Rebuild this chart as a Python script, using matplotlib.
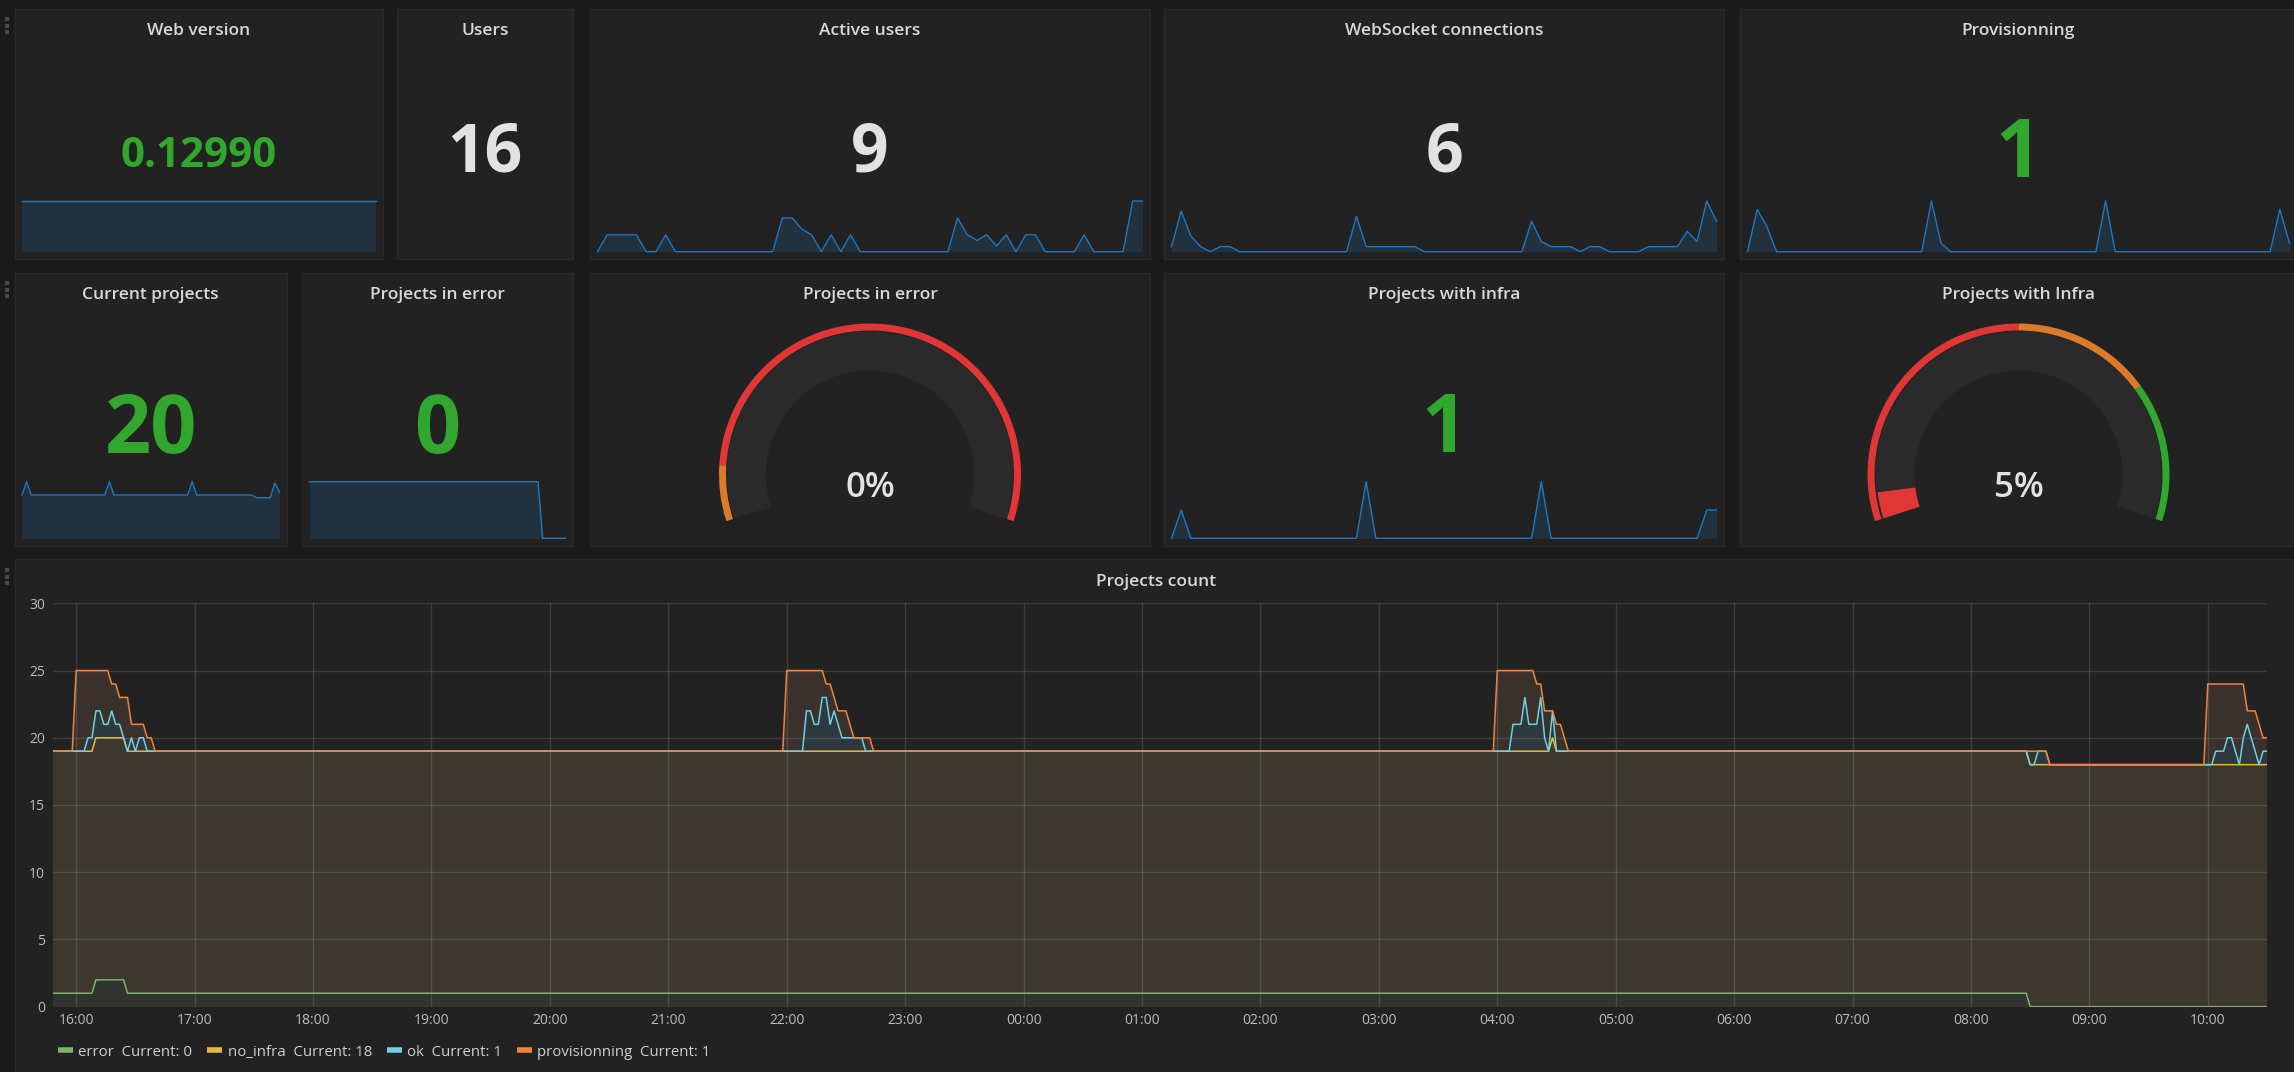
import numpy as np
import matplotlib.pyplot as plt
from matplotlib.patches import Rectangle, Wedge
from matplotlib.lines import Line2D

plt.rcParams['font.family'] = ['Open Sans', 'DejaVu Sans']

W, H = 2294, 1072

# ---------------- data ----------------
stat_titles = ['Web version', 'Users', 'Active users', 'WebSocket connections', 'Provisionning',
               'Current projects', 'Projects in error', 'Projects with infra']
stat_values = ['0.12990', '16', '9', '6', '1', '20', '0', '1']

web_spark = [0.1299, 0.1299, 0.1299, 0.1299, 0.1299, 0.1299, 0.1299, 0.1299, 0.1299, 0.1299,
             0.1299, 0.1299, 0.1299, 0.1299, 0.1299, 0.1299, 0.1299, 0.1299, 0.1299, 0.1299,
             0.1299, 0.1299, 0.1299, 0.1299, 0.1299, 0.1299, 0.1299, 0.1299, 0.1299, 0.1299,
             0.1299, 0.1299, 0.1299, 0.1299, 0.1299, 0.1299, 0.1299, 0.1299, 0.1299, 0.1299,
             0.1299, 0.1299, 0.1299, 0.1299, 0.1299, 0.1299, 0.1299, 0.1299, 0.1299, 0.1299,
             0.1299, 0.1299, 0.1299, 0.1299, 0.1299, 0.1299, 0.1299]
active_spark = [0, 3, 3, 3, 3, 0, 0, 3, 0, 0,
                0, 0, 0, 0, 0, 0, 0, 0, 0, 6,
                6, 4, 3, 0, 3, 0, 3, 0, 0, 0,
                0, 0, 0, 0, 0, 0, 0, 6, 3, 2,
                3, 1, 3, 0, 3, 3, 0, 0, 0, 0,
                3, 0, 0, 0, 0, 9, 9]
ws_spark = [1, 8, 3, 1, 0, 1, 1, 0, 0, 0,
            0, 0, 0, 0, 0, 0, 0, 0, 0, 7,
            1, 1, 1, 1, 1, 1, 0, 0, 0, 0,
            0, 0, 0, 0, 0, 0, 0, 6, 2, 1,
            1, 1, 0, 1, 1, 0, 0, 0, 0, 1,
            1, 1, 1, 4, 2, 10, 6]
prov_spark = [0, 5, 3, 0, 0, 0, 0, 0, 0, 0,
              0, 0, 0, 0, 0, 0, 0, 0, 0, 6,
              1, 0, 0, 0, 0, 0, 0, 0, 0, 0,
              0, 0, 0, 0, 0, 0, 0, 6, 0, 0,
              0, 0, 0, 0, 0, 0, 0, 0, 0, 0,
              0, 0, 0, 0, 0, 5, 1]
current_spark = [19, 20, 19, 19, 19, 19, 19, 19, 19, 19,
                 19, 19, 19, 19, 19, 19, 19, 19, 19, 20,
                 19, 19, 19, 19, 19, 19, 19, 19, 19, 19,
                 19, 19, 19, 19, 19, 19, 19, 20, 19, 19,
                 19, 19, 19, 19, 19, 19, 19, 19, 19, 19,
                 19, 18.8, 18.8, 18.8, 18.8, 19.9, 19.2]
error_spark = [1, 1, 1, 1, 1, 1, 1, 1, 1, 1,
               1, 1, 1, 1, 1, 1, 1, 1, 1, 1,
               1, 1, 1, 1, 1, 1, 1, 1, 1, 1,
               1, 1, 1, 1, 1, 1, 1, 1, 1, 1,
               1, 1, 1, 1, 1, 1, 1, 1, 1, 1,
               1, 0, 0, 0, 0, 0, 0]
infra_spark = [0, 1, 0, 0, 0, 0, 0, 0, 0, 0,
               0, 0, 0, 0, 0, 0, 0, 0, 0, 0,
               2, 0, 0, 0, 0, 0, 0, 0, 0, 0,
               0, 0, 0, 0, 0, 0, 0, 0, 2, 0,
               0, 0, 0, 0, 0, 0, 0, 0, 0, 0,
               0, 0, 0, 0, 0, 1, 1]

gauge_titles = ['Projects in error', 'Projects with Infra']
gauge_values = [0, 5]
gauge_edges = [[0, 10, 100], [0, 50, 75, 100]]

# Projects count: (minute since 16:00, value) change points per series
error_breaks = [(-12, 1), (10, 2), (26, 1), (990, 0)]
no_infra_breaks = [(-12, 18), (748, 19), (750, 18)]
ok_breaks = [(-12, 0), (6, 1), (10, 2), (14, 1), (18, 2), (20, 1), (24, 0), (28, 1), (30, 0), (32, 1), (36, 0),
             (370, 3), (374, 2), (378, 4), (382, 2), (384, 3), (386, 2), (388, 1), (400, 0),
             (728, 2), (734, 4), (736, 2), (742, 4), (744, 1), (746, 0), (748, 2), (750, 0),
             (994, 1), (1000, 0),
             (1084, 1), (1090, 2), (1094, 1), (1096, 0), (1098, 2), (1100, 3), (1102, 2), (1104, 1),
             (1106, 0), (1108, 1)]
prov_breaks = [(-12, 0), (0, 6), (6, 5), (10, 3), (14, 4), (18, 2), (20, 3), (22, 2), (24, 3), (26, 4),
               (28, 1), (30, 2), (32, 1), (40, 0),
               (360, 6), (370, 3), (374, 4), (378, 2), (380, 1), (382, 3), (384, 1), (388, 2), (392, 1),
               (394, 0), (400, 1), (404, 0),
               (720, 6), (728, 4), (734, 2), (736, 4), (740, 3), (742, 1), (744, 2), (746, 3), (748, 0),
               (750, 2), (754, 1), (756, 0),
               (990, 1), (994, 0),
               (1080, 6), (1084, 5), (1090, 4), (1094, 5), (1096, 6), (1098, 4), (1100, 1), (1102, 2),
               (1104, 3), (1108, 1)]
series_names = ['error', 'no_infra', 'ok', 'provisionning']
hour_ticks = [0, 60, 120, 180, 240, 300, 360, 420, 480, 540, 600, 660, 720, 780, 840, 900, 960, 1020, 1080]
hour_labels = ['16:00', '17:00', '18:00', '19:00', '20:00', '21:00', '22:00', '23:00', '00:00', '01:00',
               '02:00', '03:00', '04:00', '05:00', '06:00', '07:00', '08:00', '09:00', '10:00']

# ---------------- style ----------------
BG = '#1a1a1a'
PANEL = '#222222'
BAND = '#2a2a2a'
TITLE_C = '#d8d9da'
WHITE = '#e2e2e2'
GREEN = '#31a82d'
ORANGE = '#db7a2a'
RED = '#e03636'
line_colors = ['#7eb26d', '#eab839', '#6ed0e0', '#ef843c']
fill_colors = ['#31342e', '#3c382e', '#2d393d', '#3a312d']

fig = plt.figure(figsize=(W / 100, H / 100), dpi=100, facecolor=BG)
bg = fig.add_axes([0, 0, 1, 1])
bg.set_xlim(0, W)
bg.set_ylim(0, H)
bg.axis('off')


def rect(x0, y0, x1, y1):
    return [x0 / W, 1 - y1 / H, (x1 - x0) / W, (y1 - y0) / H]


stat_boxes = [(14.5, 9, 383, 259), (397, 9, 573, 259), (590, 9, 1150, 259), (1164, 9, 1724, 259),
              (1740, 9, 2297, 259), (14.5, 273, 287, 546), (302, 273, 573, 546), (1164, 273, 1724, 546)]
gauge_boxes = [(590, 273, 1150, 546), (1740, 273, 2297, 546)]
graph_box = (14.5, 559, 2297, 1080)

for (x0, y0, x1, y1) in stat_boxes + gauge_boxes + [graph_box]:
    bg.add_patch(Rectangle((x0, H - y1), x1 - x0, y1 - y0, facecolor=PANEL, edgecolor='#2a2a2a', lw=1))

# drag handles
for yy in [18, 282, 569]:
    for k in range(3):
        bg.add_patch(Rectangle((5, H - (yy + k * 6.5) - 3), 4, 4, facecolor='#4a4a4a', lw=0))

# titles
for (x0, y0, x1, y1), t in zip(stat_boxes + gauge_boxes, stat_titles + gauge_titles):
    base = 35 if y0 < 100 else 299.3
    bg.text((x0 + x1) / 2, H - base, t, color=TITLE_C, fontsize=12.5, fontweight='semibold',
            ha='center', va='baseline')
bg.text((graph_box[0] + graph_box[2]) / 2, H - 586, 'Projects count', color=TITLE_C, fontsize=12.5,
        fontweight='semibold', ha='center', va='baseline')

# stat values
value_colors = [GREEN, WHITE, WHITE, WHITE, GREEN, GREEN, GREEN, GREEN]
value_sizes = [30.3, 47.4, 47.4, 47.4, 57.5, 58.3, 58.3, 57.5]
value_base = [166.7, 171.7, 171.7, 171.7, 176.7, 452.7, 452.7, 451.7]
for (x0, y0, x1, y1), v, c, s, b in zip(stat_boxes, stat_values, value_colors, value_sizes, value_base):
    bg.text((x0 + x1) / 2, H - b, v, color=c, fontsize=s, fontweight='bold', ha='center', va='baseline')


# sparklines
def spark(box, vals, lo, hi):
    x0, y0, x1, y1 = box
    top, bot = (201, 251.7) if y0 < 100 else (481.7, 538.3)
    ax = fig.add_axes(rect(x0 + 7.5, top, min(x1 - 7.5, W - 2), bot))
    ax.set_facecolor('none')
    i = np.arange(len(vals))
    ax.fill_between(i, vals, lo, color='#1f76bd', alpha=0.18, lw=0)
    ax.plot(i, vals, color='#1f78c1', lw=1.0, clip_on=False)
    ax.set_xlim(0, len(vals) - 1)
    ax.set_ylim(lo, hi)
    ax.axis('off')


spark(stat_boxes[0], web_spark, 0, 0.1299)
spark(stat_boxes[2], active_spark, 0, 9)
spark(stat_boxes[3], ws_spark, 0, 10)
spark(stat_boxes[4], prov_spark, 0, 6)
spark(stat_boxes[5], current_spark, 15.75, 20)
spark(stat_boxes[6], error_spark, 0, 1)
spark(stat_boxes[7], infra_spark, 0, 2)


# gauges
def ang(v):
    return 198 - 216 * v / 100


gauge_colors = [[ORANGE, RED], [RED, ORANGE, GREEN]]
for (x0, y0, x1, y1), val, edges, cols in zip(gauge_boxes, gauge_values, gauge_edges, gauge_colors):
    cx, cy = (x0 + x1) / 2, H - 474.5
    bg.add_patch(Wedge((cx, cy), 143, ang(100), ang(0), width=39, facecolor=BAND, lw=0))
    for a, b, c in zip(edges[:-1], edges[1:], cols):
        bg.add_patch(Wedge((cx, cy), 151, ang(b), ang(a), width=7, facecolor=c, lw=0))
    if val > 0:
        c = cols[np.searchsorted(edges, val, side='right') - 1]
        bg.add_patch(Wedge((cx, cy), 142, ang(val), ang(0), width=38, facecolor=c, lw=0))
    bg.text(cx, H - 496.7, f'{val}%', color=WHITE, fontsize=25, fontweight='semibold',
            ha='center', va='baseline')

# ---------------- Projects count graph ----------------
t = np.arange(-12, 1112, 2)


def expand(breaks):
    times = [b[0] for b in breaks]
    vals = np.array([b[1] for b in breaks])
    return vals[np.searchsorted(times, t, side='right') - 1]


ax = fig.add_axes(rect(52.5, 603.3, 2267, 1006.7))
ax.set_facecolor(PANEL)
bottom = np.zeros(len(t))
handles = []
for name, brk, lc, fc in zip(series_names, [error_breaks, no_infra_breaks, ok_breaks, prov_breaks],
                             line_colors, fill_colors):
    vals = expand(brk)
    top = bottom + vals
    ax.fill_between(t, bottom, top, facecolor=fc, lw=0, zorder=1)
    ax.plot(t, top, color=lc, lw=1.1, zorder=3)
    handles.append(Line2D([], [], color=lc, lw=4, solid_capstyle='butt',
                          label=f'{name}  Current: {vals[-1]}'))
    bottom = top

ax.set_xlim(-12, 1110)
ax.set_ylim(0, 30)
ax.set_xticks(hour_ticks)
ax.set_xticklabels(hour_labels)
ax.set_yticks([0, 5, 10, 15, 20, 25, 30])
ax.set_axisbelow(False)
ax.grid(True, color='white', alpha=0.12, lw=1)
for s in ax.spines.values():
    s.set_visible(False)
ax.tick_params(length=0, labelsize=10, labelcolor='#bdbdbd')
ax.tick_params(axis='x', pad=4.5)
ax.tick_params(axis='y', pad=5.4)

leg = bg.legend(handles=handles, loc='center left', bbox_to_anchor=(58, H - 1052),
                bbox_transform=bg.transData, ncol=4, frameon=False, fontsize=10.8,
                handlelength=1.0, handletextpad=0.35, columnspacing=1.0,
                borderaxespad=0, borderpad=0)
for txt in leg.get_texts():
    txt.set_color('#cfcfcf')

fig.savefig('out.png', dpi=100, facecolor=BG)
